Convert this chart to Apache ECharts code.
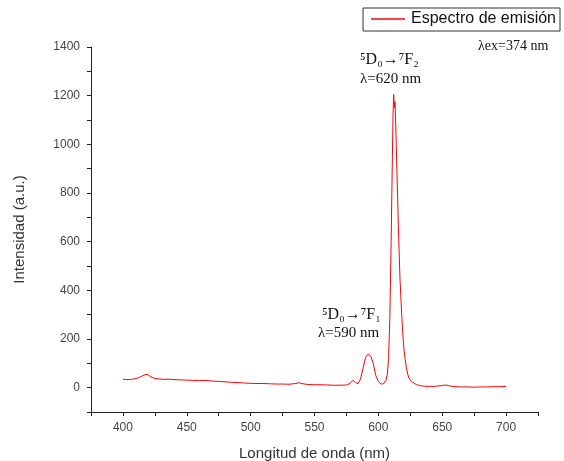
<!DOCTYPE html>
<html lang="es">
<head>
    <meta charset="UTF-8">
    <title>Espectro de emisión</title>
    <script src="https://cdn.jsdelivr.net/npm/echarts@6/dist/echarts.min.js"></script>
    <style>
        html, body { margin: 0; padding: 0; background: #fff; }
        #chart { width: 564px; height: 461px; }
    </style>
</head>
<body>
    <div id="chart"></div>
    <script>
        // longitud de onda (nm)
        var wavelengths = [400, 403, 406, 409, 412, 415, 418, 420, 422, 425, 428, 432, 436, 440, 445, 450, 455, 460, 465, 470,
            475, 480, 485, 490, 495, 500, 505, 510, 515, 520, 525, 530, 535, 538, 541, 545, 550, 555, 560, 565,
            570, 575, 578, 580, 582, 584, 586, 588, 590, 592, 594, 596, 598, 600, 602, 604, 606, 607, 608, 609,
            610, 611, 611.5, 612, 612.5, 613, 613.5, 614, 615, 616, 617, 618, 619, 620, 621, 622, 623, 624, 626, 628,
            630, 633, 636, 640, 645, 650, 653, 656, 660, 665, 670, 675, 680, 685, 690, 695, 700];
        // intensidad (a.u.)
        var intensity = [35, 33, 34, 36, 40, 48, 55, 52, 44, 38, 36, 34, 35, 33, 32, 31, 30, 29, 30, 27,
            26, 24, 22, 21, 19, 18, 17, 17, 16, 15, 15, 14, 17, 20, 16, 13, 12, 12, 11, 10,
            10, 11, 18, 30, 22, 16, 35, 80, 125, 138, 130, 100, 50, 25, 15, 16, 30, 55, 120, 290,
            600, 950, 1120, 1205, 1150, 1175, 1100, 1000, 800, 600, 440, 330, 230, 160, 115, 80, 55, 40, 25, 18,
            12, 8, 6, 5, 6, 9, 11, 7, 4, 3, 3, 2, 3, 3, 4, 4, 5];
        var xTicks = [400, 450, 500, 550, 600, 650, 700];
        var yTicks = [0, 200, 400, 600, 800, 1000, 1200, 1400];

        var seriesData = [];
        for (var i = 0; i < wavelengths.length; i++) {
            seriesData.push([wavelengths[i], intensity[i]]);
        }

        var axisFont = 'Liberation Sans, Arial, sans-serif';
        var serif = 'Liberation Serif, Times New Roman, serif';

        var chart = echarts.init(document.getElementById('chart'));
        chart.setOption({
            animation: false,
            grid: { left: 91, right: 26, top: 47, bottom: 49, outerBoundsMode: 'none' },
            legend: {
                right: 4, top: 8,
                padding: [3, 4, 4, 8],
                borderColor: '#333',
                borderWidth: 1,
                borderRadius: 0,
                itemWidth: 34, itemHeight: 1.5,
                itemGap: 5,
                data: [{ name: 'Espectro de emisión', icon: 'rect' }],
                textStyle: { fontFamily: axisFont, fontSize: 16, color: '#111', padding: [0, 0, 0, 1] }
            },
            xAxis: {
                type: 'value',
                min: 375, max: 725, interval: 25,
                name: 'Longitud de onda (nm)',
                nameLocation: 'middle',
                nameGap: 34,
                nameTextStyle: { fontFamily: axisFont, fontSize: 15, color: '#333' },
                axisLine: { onZero: false, lineStyle: { color: '#222', width: 1 } },
                axisTick: { inside: false, length: 4, lineStyle: { color: '#222' } },
                splitLine: { show: false },
                axisLabel: {
                    fontFamily: axisFont, fontSize: 12, color: '#444', margin: 10,
                    formatter: function (v) { return xTicks.indexOf(v) >= 0 ? String(v) : ''; }
                }
            },
            yAxis: {
                type: 'value',
                min: -100, max: 1400, interval: 100,
                name: 'Intensidad (a.u.)',
                nameLocation: 'middle',
                nameGap: 64,
                nameTextStyle: { fontFamily: axisFont, fontSize: 15, color: '#333' },
                axisLine: { show: true, onZero: false, lineStyle: { color: '#222', width: 1 } },
                axisTick: { show: true, inside: false, length: 4, lineStyle: { color: '#222' } },
                splitLine: { show: false },
                axisLabel: {
                    fontFamily: axisFont, fontSize: 12, color: '#444', margin: 11,
                    formatter: function (v) { return yTicks.indexOf(v) >= 0 ? String(v) : ''; }
                }
            },
            graphic: [
                { type: 'text', left: 478, top: 39, style: { text: 'λex=374 nm', font: '14px ' + serif, fill: '#111' } },
                { type: 'text', left: 360, top: 52, style: { text: '⁵D₀→⁷F₂', font: '16px ' + serif, fill: '#111' } },
                { type: 'text', left: 360, top: 72, style: { text: 'λ=620 nm', font: '15px ' + serif, fill: '#111' } },
                { type: 'text', left: 322, top: 307, style: { text: '⁵D₀→⁷F₁', font: '16px ' + serif, fill: '#111' } },
                { type: 'text', left: 318, top: 326, style: { text: 'λ=590 nm', font: '15px ' + serif, fill: '#111' } }
            ],
            series: [{
                name: 'Espectro de emisión',
                type: 'line',
                data: seriesData,
                showSymbol: false,
                symbol: 'none',
                color: '#ff0000',
                lineStyle: { color: '#ff0000', width: 1 }
            }]
        });
    </script>
</body>
</html>
